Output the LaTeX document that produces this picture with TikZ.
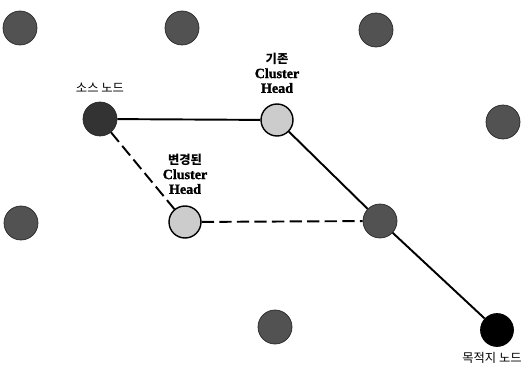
\documentclass[tikz,border=0pt]{standalone}
\usepackage{fontspec}
\setmainfont{Liberation Serif}
\newfontfamily\krfont{Noto Sans CJK KR}
\newfontfamily\headfont{Liberation Serif}[UprightFont={* Bold}, FakeBold=1.5]
\usetikzlibrary{positioning}

\begin{document}
\begin{tikzpicture}
    [
        x=0.02cm, y=-0.02cm, auto,
        sensor/.style={circle, draw=black!85, fill=black!68, minimum size=0.68cm, inner sep=0pt},
        srcnode/.style={sensor, fill=black!80},
        head/.style={circle, draw=black, line width=0.8pt, fill=black!20, minimum size=0.64cm, inner sep=0pt},
        sink/.style={circle, draw=black, fill=black, minimum size=0.66cm, inner sep=0pt},
        lbl/.style={font=\headfont\fontsize{8}{8.4}\selectfont, align=center, inner sep=0pt},
        klbl/.style={font=\krfont\fontsize{7}{8}\selectfont, inner sep=0pt}
    ]
    \tikzstyle{line} = [draw, line width=1.1pt]
    \tikzstyle{dashline} = [draw, line width=1.1pt, dash pattern=on 7pt off 3pt]

    \useasboundingbox (0,0) rectangle (524,368);

    % other sensor nodes
    \node[sensor] (n1) at (20,28) {};
    \node[sensor] (n2) at (182,28) {};
    \node[sensor] (n3) at (376,30) {};
    \node[sensor] (n4) at (503,122) {};
    \node[sensor] (n5) at (21,223) {};
    \node[sensor] (n6) at (275,327) {};

    % route nodes
    \node[srcnode] (src) at (100,119) {};
    \node[head] (oldch) at (277,120) {};
    \node[head] (newch) at (185,222) {};
    \node[sensor] (relay) at (380,221) {};
    \node[sink] (dst) at (497,330) {};

    \node[klbl, above=0.18cm of src] (srclbl) {소스 노드};
    \node[lbl, above=0.2cm of oldch] (oldlbl) {{\krfont\bfseries\fontsize{7}{8}\selectfont 기존}\\Cluster\\Head};
    \node[lbl, above=0.22cm of newch] (newlbl) {{\krfont\bfseries\fontsize{7}{8}\selectfont 변경된}\\Cluster\\Head};
    \node[klbl, below=0.1cm of dst, xshift=-0.1cm] (dstlbl) {목적지 노드};

    \path[line] (src) -- (oldch);
    \path[line] (oldch) -- (relay);
    \path[line] (relay) -- (dst);
    \path[dashline] (src) -- (newch);
    \path[dashline] (newch) -- (relay);

\end{tikzpicture}
\end{document}
